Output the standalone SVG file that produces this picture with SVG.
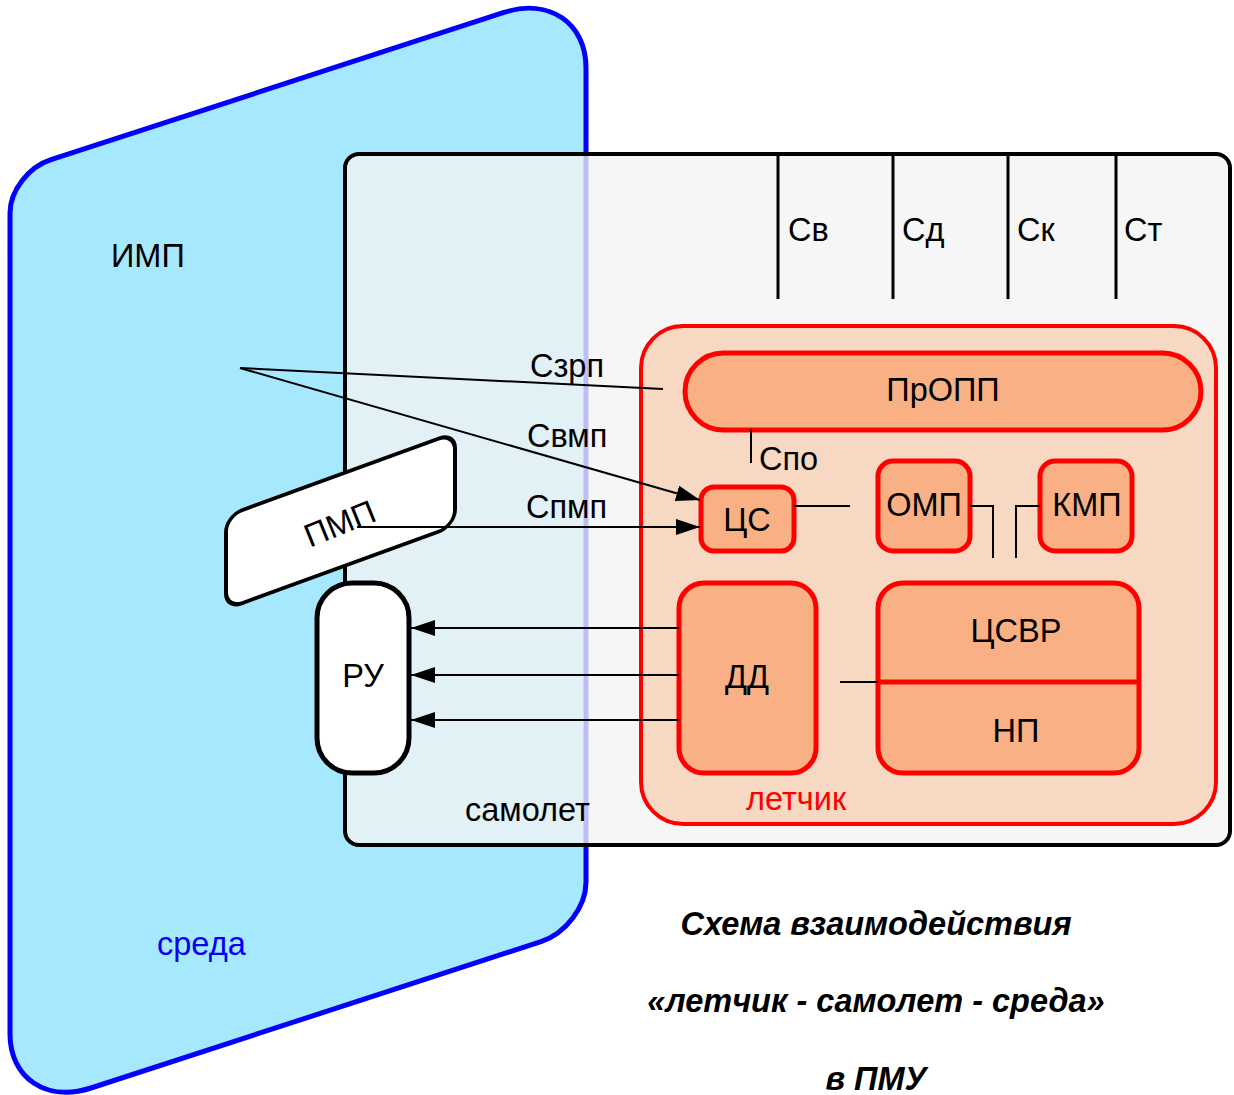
<svg xmlns="http://www.w3.org/2000/svg" width="1234" height="1095" viewBox="0 0 1234 1095">
<style>
.t{font-family:"Liberation Sans",Arial,sans-serif;font-size:32.5px;fill:#000}
.c{text-anchor:middle}
.ln{stroke:#000;stroke-width:2;fill:none}
.bx{fill:#f8b084;stroke:#ff0000;stroke-width:5}
.ttl{font-family:"Liberation Sans",Arial,sans-serif;font-size:32.5px;font-weight:bold;font-style:italic;text-anchor:middle;fill:#000}
</style>
<defs>
<marker id="arr" viewBox="0 0 24 16" refX="24" refY="8" markerWidth="24" markerHeight="16" markerUnits="userSpaceOnUse" orient="auto">
<path d="M0,0 L24,8 L0,16 z" fill="#000"/>
</marker>
</defs>
<g id="sreda">
<path d="M10,213 C10,190.9 28.4,167 51,159.7 L504,12.45 C549.3,-2.1 586,22.7 586,68 L586,882 C586,906.8 565.8,933.5 541,941.6 L91,1088 C46.3,1102.4 10,1078.2 10,1034 Z" fill="#a6e8fd" stroke="#0000ff" stroke-width="5"/>
<text class="t" x="111" y="267">ИМП</text>
<text class="t" x="157" y="955" style="fill:#0000ff">среда</text>
</g>
<g id="samolet">
<rect x="345" y="154" width="885" height="691" rx="14" fill="#f3f3f3" fill-opacity="0.78" stroke="#000" stroke-width="4"/>
<text class="t" x="465" y="821">самолет</text>
<line x1="778" y1="155" x2="778" y2="299" stroke="#000" stroke-width="3"/>
<line x1="893" y1="155" x2="893" y2="299" stroke="#000" stroke-width="3"/>
<line x1="1008" y1="155" x2="1008" y2="299" stroke="#000" stroke-width="3"/>
<line x1="1116" y1="155" x2="1116" y2="299" stroke="#000" stroke-width="3"/>
<text class="t" x="788" y="241">Св</text>
<text class="t" x="902" y="241">Сд</text>
<text class="t" x="1017" y="241">Ск</text>
<text class="t" x="1124" y="241">Ст</text>
</g>
<g id="letchik">
<rect x="641" y="326" width="575" height="498" rx="42" fill="#f7d8c3" stroke="#ff0000" stroke-width="4"/>
<text class="t" x="746" y="810" style="fill:#ff0000">летчик</text>
</g>
<g id="propp">
<rect class="bx" x="685" y="353" width="516" height="77" rx="38.5"/>
<text class="t c" x="943" y="401">ПрОПП</text>
</g>
<g id="cs">
<rect class="bx" x="701" y="487" width="93" height="64" rx="13"/>
<text class="t c" x="747" y="531">ЦС</text>
</g>
<g id="omp">
<rect class="bx" x="878" y="461" width="92" height="90" rx="15"/>
<text class="t c" x="924" y="516">ОМП</text>
</g>
<g id="kmp">
<rect class="bx" x="1040" y="461" width="92" height="90" rx="15"/>
<text class="t c" x="1087" y="516">КМП</text>
</g>
<g id="dd">
<rect class="bx" x="679" y="583" width="137" height="190" rx="25"/>
<text class="t c" x="747" y="688">ДД</text>
</g>
<g id="csvr">
<rect class="bx" x="878" y="583" width="261" height="190" rx="25"/>
<line x1="878" y1="682" x2="1139" y2="682" stroke="#ff0000" stroke-width="5"/>
<text class="t c" x="1016" y="642">ЦСВР</text>
<text class="t c" x="1016" y="742">НП</text>
</g>
<g id="ru">
<rect x="317" y="583" width="92" height="190" rx="35" fill="#fff" stroke="#000" stroke-width="5"/>
<text class="t c" x="363" y="687">РУ</text>
</g>
<g id="pmp">
<g transform="translate(226,516) skewY(-20)">
<rect x="0" y="0" width="229" height="93" rx="16" fill="#fff" stroke="#000" stroke-width="4"/>
</g>
<text class="t c" transform="translate(344,534) rotate(-22)">ПМП</text>
</g>
<g id="connectors">
<line class="ln" x1="240" y1="368" x2="663" y2="389"/>
<line class="ln" x1="240" y1="368" x2="700" y2="500" marker-end="url(#arr)"/>
<line class="ln" x1="357" y1="527" x2="700" y2="527" marker-end="url(#arr)"/>
<text class="t" x="530" y="377">Сзрп</text>
<text class="t" x="527" y="447">Свмп</text>
<text class="t" x="526" y="518">Спмп</text>
<line class="ln" x1="751" y1="429" x2="751" y2="463"/>
<text class="t" x="759" y="470">Спо</text>
<line class="ln" x1="794" y1="506" x2="850" y2="506"/>
<polyline class="ln" points="970,506 993,506 993,558"/>
<polyline class="ln" points="1040,506 1016,506 1016,558"/>
<line class="ln" x1="679" y1="628" x2="411" y2="628" marker-end="url(#arr)"/>
<line class="ln" x1="679" y1="675" x2="411" y2="675" marker-end="url(#arr)"/>
<line class="ln" x1="679" y1="720" x2="411" y2="720" marker-end="url(#arr)"/>
<line class="ln" x1="840" y1="682" x2="878" y2="682"/>
</g>
<g id="title">
<text class="ttl" x="876" y="935">Схема взаимодействия</text>
<text class="ttl" x="876" y="1012">«летчик - самолет - среда»</text>
<text class="ttl" x="876" y="1090">в ПМУ</text>
</g>
</svg>
